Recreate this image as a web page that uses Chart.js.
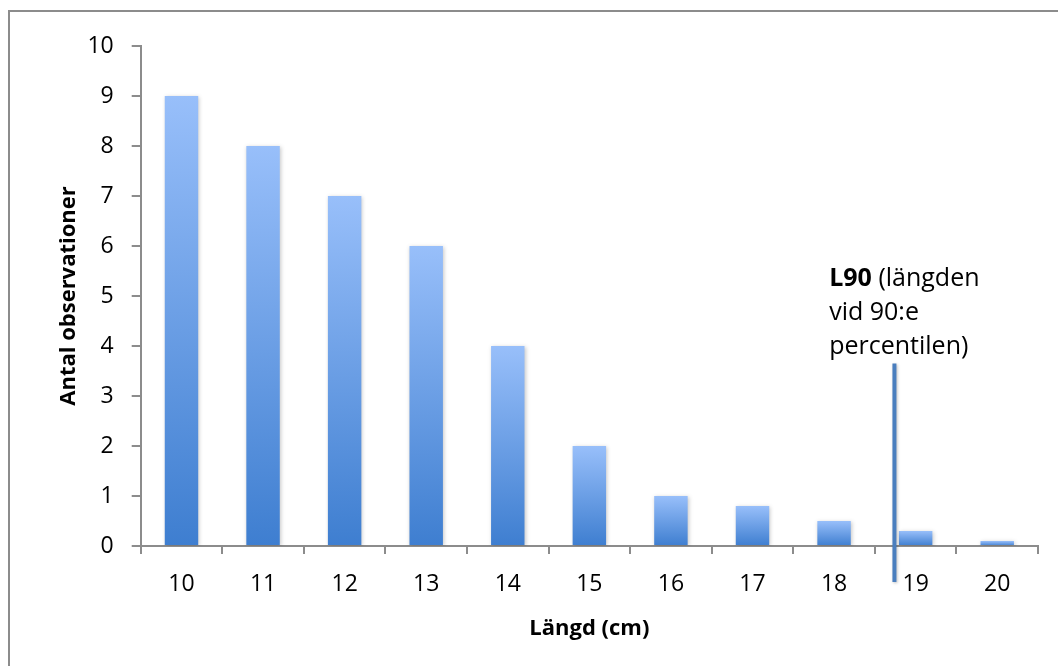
<!DOCTYPE html>
<html>
<head>
<meta charset="utf-8">
<script src="https://cdn.jsdelivr.net/npm/chart.js@4.4.1/dist/chart.umd.min.js"></script>
<style>
  html, body { margin: 0; padding: 0; background: #fff; overflow: hidden; }
  #frame { position: absolute; left: 8px; top: 10px; width: 1100px; height: 700px; border: 2px solid #8c8c8c; }
  #wrap { position: absolute; left: 0; top: 0; width: 1058px; height: 666px; }
</style>
</head>
<body>
<div id="frame"></div>
<div id="wrap"><canvas id="chart"></canvas></div>
<script>
// längdfördelning
const lengths = ['10', '11', '12', '13', '14', '15', '16', '17', '18', '19', '20'];
const counts = [9, 8, 7, 6, 4, 2, 1, 0.8, 0.5, 0.3, 0.1];
const yTicks = [0, 1, 2, 3, 4, 5, 6, 7, 8, 9, 10];

// L90-markering (index på kategoriaxeln, y-värden)
const l90Index = 8.74;
const l90Top = 3.65;
const l90Bottom = -0.72;
const l90Label = [['L90', ' (längden'], ['vid 90:e'], ['percentilen)']];
const l90LabelIndex = 7.94;
const l90LabelTop = 5.35;

const axisGray = '#8c8c8c';
const font = "'Open Sans', sans-serif";

function barGradient(context) {
  const chart = context.chart;
  const y = chart.scales.y;
  if (!y || !chart.chartArea) return '#6fa0e6';
  const v = context.raw;
  const top = y.getPixelForValue(v);
  const base = y.getPixelForValue(0);
  if (!isFinite(top) || top === base) return '#6fa0e6';
  const g = chart.ctx.createLinearGradient(0, top, 0, base);
  g.addColorStop(0, '#98bffa');
  g.addColorStop(1, '#3e7ed0');
  return g;
}

const shadowPlugin = {
  id: 'barShadow',
  beforeDatasetsDraw(chart) {
    const ctx = chart.ctx;
    ctx.save();
    ctx.shadowColor = 'rgba(0,0,0,0.22)';
    ctx.shadowBlur = 4;
    ctx.shadowOffsetX = 1;
    ctx.shadowOffsetY = 1;
  },
  afterDatasetsDraw(chart) {
    chart.ctx.restore();
  }
};

const l90Plugin = {
  id: 'l90',
  afterDraw(chart) {
    const ctx = chart.ctx;
    const x = chart.scales.x, y = chart.scales.y;
    const px = x.getPixelForValue(l90Index);
    ctx.save();
    ctx.strokeStyle = '#4a7ebe';
    ctx.lineWidth = 4;
    ctx.shadowColor = 'rgba(0,0,0,0.25)';
    ctx.shadowBlur = 3;
    ctx.shadowOffsetX = 1;
    ctx.shadowOffsetY = 1;
    ctx.beginPath();
    ctx.moveTo(px, y.getPixelForValue(l90Top));
    ctx.lineTo(px, y.getPixelForValue(l90Bottom));
    ctx.stroke();
    ctx.restore();

    ctx.save();
    ctx.fillStyle = '#000';
    ctx.textBaseline = 'middle';
    const lx = x.getPixelForValue(l90LabelIndex);
    let ly = y.getPixelForValue(l90LabelTop);
    l90Label.forEach((parts, i) => {
      let cx = lx;
      parts.forEach((p, j) => {
        ctx.font = (i === 0 && j === 0 ? 'bold ' : '') + '25px ' + font;
        ctx.fillText(p, cx, ly);
        cx += ctx.measureText(p).width;
      });
      ly += 34;
    });
    ctx.restore();
  }
};

new Chart(document.getElementById('chart'), {
  type: 'bar',
  data: {
    labels: lengths,
    datasets: [{
      data: counts,
      backgroundColor: barGradient,
      barPercentage: 0.41,
      categoryPercentage: 1
    }]
  },
  options: {
    responsive: true,
    maintainAspectRatio: false,
    animation: false,
    events: [],
    layout: { padding: { left: 56, right: 20, top: 46, bottom: 24 } },
    plugins: { legend: { display: false }, tooltip: { enabled: false } },
    scales: {
      x: {
        grid: { display: true, drawOnChartArea: false, offset: true, color: axisGray, lineWidth: 2, tickLength: 8 },
        border: { color: axisGray, width: 2 },
        ticks: { color: '#000', font: { family: font, size: 23 }, padding: 17, maxRotation: 0 },
        title: { display: true, text: 'Längd (cm)', color: '#000', font: { family: font, size: 22, weight: 'bold' }, padding: { top: 0, bottom: 0 } }
      },
      y: {
        min: 0, max: 10,
        afterBuildTicks(axis) { axis.ticks = yTicks.map(v => ({ value: v })); },
        afterFit(axis) { axis.width -= 13; },
        grid: { display: true, drawOnChartArea: false, color: axisGray, lineWidth: 2, tickLength: 9 },
        border: { color: axisGray, width: 2 },
        ticks: { color: '#000', font: { family: font, size: 23 }, padding: 18 },
        title: { display: true, text: 'Antal observationer', color: '#000', font: { family: font, size: 22, weight: 'bold' }, padding: { top: 0, bottom: 0 } }
      }
    }
  },
  plugins: [shadowPlugin, l90Plugin]
});
</script>
</body>
</html>
